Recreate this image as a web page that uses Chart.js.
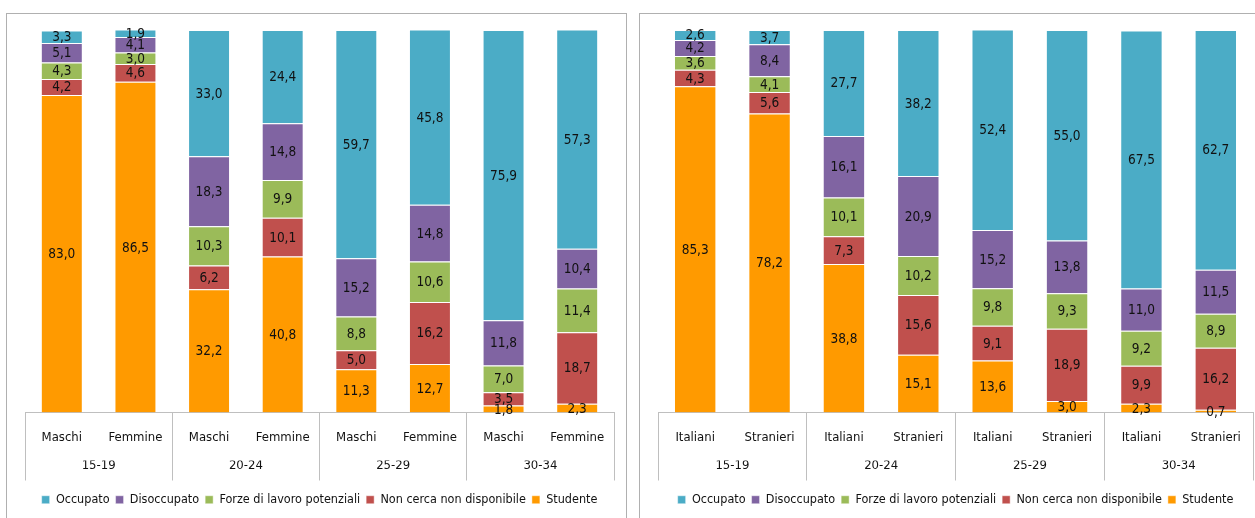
<!DOCTYPE html>
<html>
<head>
<meta charset="utf-8">
<script src="https://cdn.jsdelivr.net/npm/chart.js@4/dist/chart.umd.min.js"></script>
<style>
  body { margin: 0; background: #fff; width: 1255px; height: 518px; overflow: hidden; position: relative; }
  .panel { position: absolute; top: 13px; height: 520px; border: 1px solid #b0b0b0; background: #fff; }
  .panel canvas { position: absolute; left: 0; top: 0; }
</style>
</head>
<body>
<div class="panel" style="left:6px; width:619px;"><canvas id="chartSesso" width="619" height="504"></canvas></div>
<div class="panel" style="left:639px; width:630px;"><canvas id="chartCitt" width="616" height="504"></canvas></div>

<script>
// categorie
const etaGruppi = ['15-19', '20-24', '25-29', '30-34'];
const sessoLabels = ['Maschi', 'Femmine', 'Maschi', 'Femmine', 'Maschi', 'Femmine', 'Maschi', 'Femmine'];
const cittLabels = ['Italiani', 'Stranieri', 'Italiani', 'Stranieri', 'Italiani', 'Stranieri', 'Italiani', 'Stranieri'];

const serieNomi = ['Occupato', 'Disoccupato', 'Forze di lavoro potenziali', 'Non cerca non disponibile', 'Studente'];
const serieColori = ['#4BACC6', '#8064A2', '#9BBB59', '#C0504D', '#FF9A00'];

// valori % per sesso
const sessoOccupato    = [3.3, 1.9, 33.0, 24.4, 59.7, 45.8, 75.9, 57.3];
const sessoDisoccupato = [5.1, 4.1, 18.3, 14.8, 15.2, 14.8, 11.8, 10.4];
const sessoForze       = [4.3, 3.0, 10.3, 9.9, 8.8, 10.6, 7.0, 11.4];
const sessoNonCerca    = [4.2, 4.6, 6.2, 10.1, 5.0, 16.2, 3.5, 18.7];
const sessoStudente    = [83.0, 86.5, 32.2, 40.8, 11.3, 12.7, 1.8, 2.3];

// valori % per cittadinanza
const cittOccupato    = [2.6, 3.7, 27.7, 38.2, 52.4, 55.0, 67.5, 62.7];
const cittDisoccupato = [4.2, 8.4, 16.1, 20.9, 15.2, 13.8, 11.0, 11.5];
const cittForze       = [3.6, 4.1, 10.1, 10.2, 9.8, 9.3, 9.2, 8.9];
const cittNonCerca    = [4.3, 5.6, 7.3, 15.6, 9.1, 18.9, 9.9, 16.2];
const cittStudente    = [85.3, 78.2, 38.8, 15.1, 13.6, 3.0, 2.3, 0.7];

const FONT = "'DejaVu Sans Condensed', 'Liberation Sans', sans-serif";

// etichette con il valore al centro di ogni segmento
const etichetteValori = {
    id: 'etichetteValori',
    afterDatasetsDraw(chart) {
        const ctx = chart.ctx;
        ctx.save();
        ctx.font = '13.5px ' + FONT;
        ctx.fillStyle = '#111';
        ctx.textAlign = 'center';
        ctx.textBaseline = 'middle';
        chart.data.datasets.forEach((ds, i) => {
            chart.getDatasetMeta(i).data.forEach((bar, j) => {
                const p = bar.getCenterPoint();
                ctx.fillText(ds.data[j].toFixed(1).replace('.', ','), p.x, p.y + 1);
            });
        });
        ctx.restore();
    }
};

function creaGrafico(canvasId, labels, valori, padRight) {
    // impilamento dal basso: Studente ... Occupato in cima
    const datasets = serieNomi.map((nome, i) => ({
        label: nome,
        data: valori[i],
        backgroundColor: serieColori[i],
        borderColor: 'rgba(255,255,255,0.45)',
        borderWidth: 1,
        barPercentage: 0.57,
        categoryPercentage: 1
    })).reverse();

    return new Chart(document.getElementById(canvasId), {
        type: 'bar',
        data: { labels: labels, datasets: datasets },
        plugins: [etichetteValori],
        options: {
            responsive: false,
            animation: false,
            layout: { padding: { left: 18, right: padRight, top: 16, bottom: 2 } },
            scales: {
                x: {
                    stacked: true,
                    border: { display: true, color: '#bfbfbf', width: 1 },
                    grid: {
                        offset: true,
                        drawOnChartArea: false,
                        drawTicks: true,
                        tickLength: 68,
                        tickWidth: 1,
                        // linee verticali solo tra i gruppi di età
                        tickColor: c => (c.index === undefined || c.index % 2 === 0) ? '#bfbfbf' : 'rgba(0,0,0,0)'
                    },
                    ticks: {
                        padding: -51,
                        color: '#111',
                        font: { family: FONT, size: 13 },
                        maxRotation: 0,
                        autoSkip: false
                    },
                    afterFit: s => { s.height = 48; }
                },
                eta: {
                    type: 'category',
                    position: 'bottom',
                    labels: etaGruppi,
                    offset: true,
                    border: { display: false },
                    grid: { display: false, drawTicks: false },
                    ticks: {
                        padding: -3,
                        color: '#111',
                        font: { family: FONT, size: 13 },
                        maxRotation: 0,
                        autoSkip: false
                    },
                    afterFit: s => { s.height = 27; }
                },
                y: {
                    stacked: true,
                    display: false,
                    min: 0,
                    max: 100
                }
            },
            plugins: {
                tooltip: { enabled: false },
                legend: {
                    position: 'bottom',
                    reverse: true,
                    labels: {
                        boxWidth: 8,
                        boxHeight: 8,
                        padding: 6,
                        color: '#111',
                        font: { family: FONT, size: 12.5 }
                    }
                }
            }
        }
    });
}

creaGrafico('chartSesso', sessoLabels,
    [sessoOccupato, sessoDisoccupato, sessoForze, sessoNonCerca, sessoStudente], 12);
creaGrafico('chartCitt', cittLabels,
    [cittOccupato, cittDisoccupato, cittForze, cittNonCerca, cittStudente], 3);
</script>
</body>
</html>
